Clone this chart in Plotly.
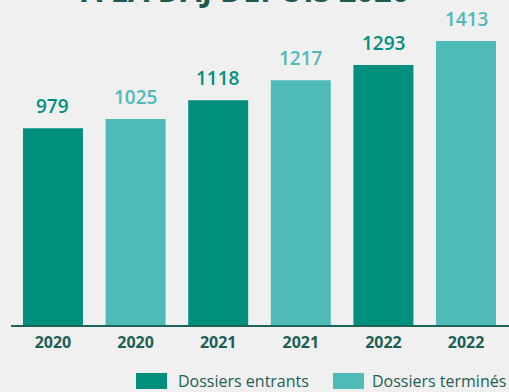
import plotly.graph_objects as go

# Data
categories = ["2020", "2020", "2021", "2021", "2022", "2022"]
entrants_years = ["2020", "2021", "2022"]
entrants_values = [979, 1118, 1293]
termines_years = ["2020", "2021", "2022"]
termines_values = [1025, 1217, 1413]
series_names = ["Dossiers entrants", "Dossiers terminés"]
title_text = "À LA DAJ DEPUIS 2020"

DARK = "#008E7D"
LIGHT = "#4EBBB6"
AXIS = "#1B6458"
TEXT = "#1D5F55"
BG = "#F0F0F0"
FONT = "Open Sans"

x_entrants = [2 * i for i in range(len(entrants_values))]
x_termines = [2 * i + 1 for i in range(len(termines_values))]

fig = go.Figure()
fig.add_trace(go.Bar(
    x=x_entrants, y=entrants_values, name=series_names[0],
    marker=dict(color=DARK, line=dict(width=0)), width=0.726, showlegend=False,
))
fig.add_trace(go.Bar(
    x=x_termines, y=termines_values, name=series_names[1],
    marker=dict(color=LIGHT, line=dict(width=0)), width=0.726, showlegend=False,
))

# Value labels above bars
for xs, vals, col in [(x_entrants, entrants_values, DARK), (x_termines, termines_values, LIGHT)]:
    for xv, v in zip(xs, vals):
        fig.add_annotation(x=xv, y=v, text=str(v), showarrow=False,
                           yanchor="bottom", yshift=7,
                           font=dict(color=col, size=19, family=FONT, weight=600))

# Manual legend (wide swatches as in reference)
legend_items = [(series_names[0], DARK, 136, 176), (series_names[1], LIGHT, 333, 370)]
W, H = 509, 392
for name, col, sx, tx in legend_items:
    fig.add_shape(type="rect", xref="paper", yref="paper",
                  x0=(sx - 11) / 498, x1=(sx + 31 - 11) / 498,
                  y0=(325 - 389) / 305, y1=(325 - 373) / 305,
                  fillcolor=col, line=dict(width=0))
    fig.add_annotation(xref="paper", yref="paper", x=(tx - 11) / 498, y=(325 - 381) / 305,
                       text=name, showarrow=False, xanchor="left", yanchor="middle",
                       font=dict(color=TEXT, size=16, family=FONT))

fig.add_annotation(xref="paper", yref="paper", x=(245 - 11) / 498, y=1, yshift=7,
                   text="<b>" + title_text + "</b>", showarrow=False,
                   xanchor="center", yanchor="bottom",
                   font=dict(color="#1A5C52", size=31, family=FONT))

fig.update_layout(
    width=W, height=H,
    margin=dict(l=11, r=0, t=20, b=67),
    paper_bgcolor=BG, plot_bgcolor=BG,
    barmode="overlay",
    font=dict(family=FONT, color=TEXT),
    xaxis=dict(
        tickmode="array", tickvals=list(range(len(categories))), ticktext=categories,
        range=[-0.508, 5.52], showgrid=False, zeroline=False,
        showline=True, linecolor=AXIS, linewidth=2, ticks="",
        tickfont=dict(size=16, color=TEXT, family=FONT, weight=700),
        ticklabelstandoff=2,
    ),
    yaxis=dict(range=[0, 1517], visible=False, showgrid=False, zeroline=False),
)

fig.write_html("out.html")
